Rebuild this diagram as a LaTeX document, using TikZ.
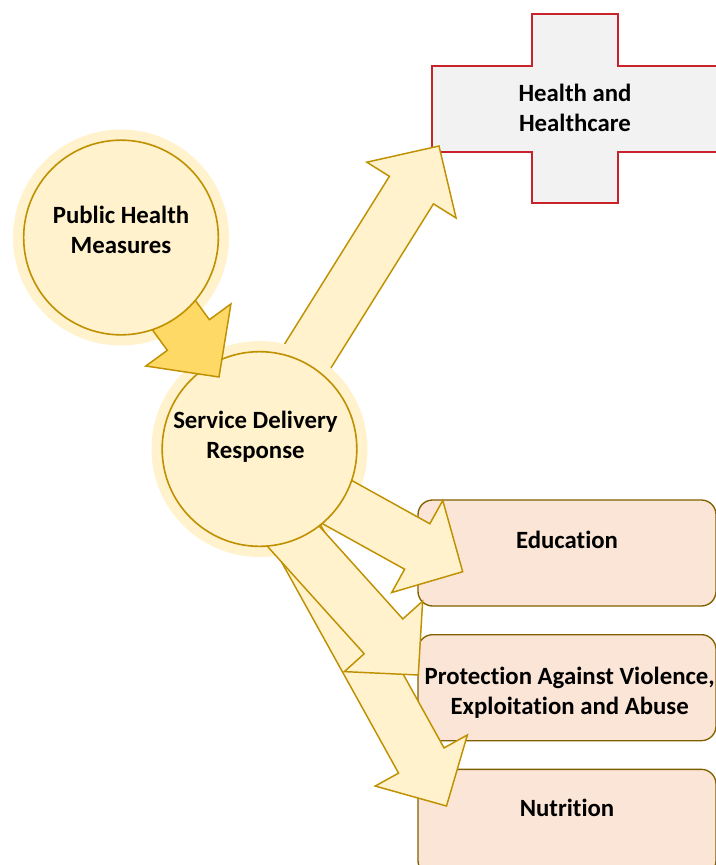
\documentclass[tikz,border=0pt]{standalone}
\usepackage{fontspec}
\setmainfont{Carlito}[Ligatures=NoCommon]
\usetikzlibrary{positioning, calc}

\definecolor{goldfill}{HTML}{FFF2CC}
\definecolor{goldline}{HTML}{BF9000}
\definecolor{golddark}{HTML}{FFD966}
\definecolor{peachfill}{HTML}{FBE5D6}
\definecolor{brownline}{HTML}{806000}
\definecolor{crossred}{HTML}{C8232B}
\definecolor{crossfill}{HTML}{F2F2F2}

\tikzset{
  halo/.style={circle, fill=goldfill, minimum size=162pt, inner sep=0pt},
  hub/.style={circle, draw=goldline, fill=goldfill, line width=1.2pt, minimum size=146pt, inner sep=0pt},
  caption/.style={align=center, inner sep=0pt, font=\fontsize{18.6pt}{22.5pt}\selectfont\bfseries},
  sector/.style={rectangle, rounded corners=11pt, draw=brownline, fill=peachfill, line width=1pt,
                 minimum width=223.5pt, minimum height=79.5pt},
  flow/.style={draw=goldline, fill=goldfill, line width=1.1pt, line join=miter},
  feed/.style={flow, fill=golddark},
  crossshape/.style={draw=crossred, fill=crossfill, line width=1.3pt}
}

\newcommand{\blockarrow}[3][flow]{%
  \coordinate (ba base) at ($(#3)!39pt!(#2)$);
  \draw[#1] ($(#2)!19.5pt!90:(#3)$)      -- ($(ba base)!19.5pt!90:(#3)$)
         -- ($(ba base)!39.5pt!90:(#3)$)  -- (#3)
         -- ($(ba base)!39.5pt!-90:(#3)$) -- ($(ba base)!19.5pt!-90:(#3)$)
         -- ($(#2)!19.5pt!-90:(#3)$)      -- cycle;
}

\begin{document}
\begin{tikzpicture}[x=0.75pt, y=-0.75pt, node distance=20.5pt]
  \useasboundingbox (0,0) rectangle (716,865);
  \coordinate (sdr c)        at (259.5,449);
  \coordinate (phm c)        at (121,237.5);
  \coordinate (health start) at (285.3,391.9);
  \coordinate (health tip)   at (439,146);
  \coordinate (edu start)    at (270.3,465);
  \coordinate (edu tip)      at (462.7,571.7);
  \coordinate (prot start)   at (264.4,504.1);
  \coordinate (prot tip)     at (418.3,675);
  \coordinate (nut start)    at (272,491.1);
  \coordinate (nut tip)      at (446.5,806);
  \coordinate (phm start)    at (136.5,263.9);
  \coordinate (phm tip)      at (219,377);

  \draw[crossshape] (532,14) -- (618,14) -- (618,66) -- (717,66) -- (717,152) -- (618,152)
                 -- (618,203) -- (532,203) -- (532,152) -- (432,152) -- (432,66) -- (532,66) -- cycle;
  \node[caption] (health) at (575,108) {Health and\\Healthcare};

  \node[sector]              (edu)  at (567,553) {};
  \node[sector, below=of edu]  (prot)           {};
  \node[sector, below=of prot] (nut)            {};
  \node[caption] (edu text)  at ([yshift=10pt]edu.center)   {Education};
  \node[caption] (prot text) at ([xshift=2pt, yshift=-3.5pt]prot.center) {Protection Against Violence,\\Exploitation and Abuse};
  \node[caption] (nut text)  at ([yshift=10.5pt]nut.center) {Nutrition};

  \blockarrow{health start}{health tip}
  \node[halo] (sdr halo) at (sdr c) {};
  \node[halo] (phm halo) at (phm c) {};
  \blockarrow{nut start}{nut tip}
  \blockarrow{prot start}{prot tip}
  \blockarrow{edu start}{edu tip}
  \node[hub] (sdr) at (sdr c) {};
  \node[caption] (sdr text) at ([xshift=-3pt, yshift=9.5pt]sdr.center) {Service Delivery\\Response};
  \blockarrow[feed]{phm start}{phm tip}
  \node[hub] (phm) at (phm c) {};
  \node[caption] (phm text) at ([yshift=5.5pt]phm.center) {Public Health\\Measures};
\end{tikzpicture}
\end{document}
